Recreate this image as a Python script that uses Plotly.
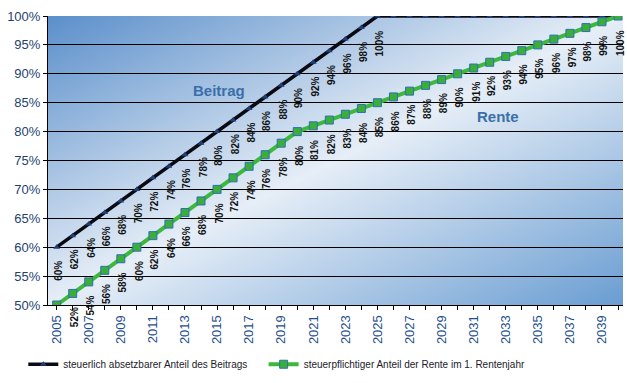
import base64
import plotly.graph_objects as go

years = list(range(2005, 2041))
beitrag = [60, 62, 64, 66, 68, 70, 72, 74, 76, 78, 80, 82, 84, 86, 88, 90, 92, 94, 96, 98,
           100, 100, 100, 100, 100, 100, 100, 100, 100, 100, 100, 100, 100, 100, 100, 100]
rente = [50, 52, 54, 56, 58, 60, 62, 64, 66, 68, 70, 72, 74, 76, 78, 80, 81, 82, 83, 84,
         85, 86, 87, 88, 89, 90, 91, 92, 93, 94, 95, 96, 97, 98, 99, 100]
beitrag_label_count = 21   # labels shown 2005..2025
rente_label_start = 1      # labels shown 2006..2040
x_tick_labels = [2005, 2007, 2009, 2011, 2013, 2015, 2017, 2019, 2021, 2023,
                 2025, 2027, 2029, 2031, 2033, 2035, 2037, 2039]
y_ticks = [50, 55, 60, 65, 70, 75, 80, 85, 90, 95, 100]
name_beitrag = "steuerlich absetzbarer Anteil des Beitrags"
name_rente = "steuerpflichtiger Anteil der Rente im 1. Rentenjahr"

FONT = "Arial, 'Liberation Sans', sans-serif"

svg = ('<svg xmlns="http://www.w3.org/2000/svg" width="100" height="100" preserveAspectRatio="none">'
       '<defs><linearGradient id="g" x1="0" y1="0" x2="1" y2="1">'
       '<stop offset="0" stop-color="#5b8fca"/>'
       '<stop offset="0.5" stop-color="#e6eef7"/>'
       '<stop offset="1" stop-color="#6a9dd2"/>'
       '</linearGradient></defs><rect width="100" height="100" fill="url(#g)"/></svg>')
src = "data:image/svg+xml;base64," + base64.b64encode(svg.encode()).decode()

fig = go.Figure()
fig.add_trace(go.Scatter(
    x=years, y=beitrag, name=name_beitrag, mode="lines+markers", legend="legend",
    line=dict(color="#0a0a14", width=3.5),
    marker=dict(symbol="triangle-up", size=6, color="#1f3f7a"),
))
fig.add_trace(go.Scatter(
    x=years, y=rente, name=name_rente, mode="lines+markers", legend="legend2",
    line=dict(color="#3cb83a", width=4),
    marker=dict(symbol="square", size=8, color="#3aae38",
                line=dict(color="#2f6fb8", width=1)),
))

lab_font = dict(family=FONT, size=10, color="#111")
annotations = []
for yr, v in list(zip(years, beitrag))[:beitrag_label_count]:
    annotations.append(dict(x=yr, y=v, xref="x", yref="y", text=f"<b>{v}%</b>",
                            textangle=-90, showarrow=False, yanchor="top", xanchor="center",
                            yshift=-12, xshift=2, font=lab_font))
for yr, v in list(zip(years, rente))[rente_label_start:]:
    annotations.append(dict(x=yr, y=v, xref="x", yref="y", text=f"<b>{v}%</b>",
                            textangle=-90, showarrow=False, yanchor="top", xanchor="center",
                            yshift=-12, xshift=2, font=lab_font))
annotations.append(dict(x=2015.1, y=87.1, xref="x", yref="y", text="<b>Beitrag</b>",
                        showarrow=False, font=dict(family=FONT, size=15, color="#3a6fa8")))
annotations.append(dict(x=2032.5, y=82.6, xref="x", yref="y", text="<b>Rente</b>",
                        showarrow=False, font=dict(family=FONT, size=15, color="#3a6fa8")))

legend_common = dict(orientation="h", y=-0.205, xanchor="left", yanchor="middle",
                     font=dict(family=FONT, size=10, color="#1a1a2a"), itemwidth=30,
                     bgcolor="rgba(0,0,0,0)")

fig.update_layout(
    width=627, height=383,
    margin=dict(l=48, r=4, t=16, b=68),
    paper_bgcolor="white",
    plot_bgcolor="rgba(0,0,0,0)",
    font=dict(family=FONT, size=12, color="#1f3f6f"),
    images=[dict(source=src, xref="paper", yref="paper", x=0, y=1, sizex=1, sizey=1,
                 sizing="stretch", layer="below", xanchor="left", yanchor="top")],
    annotations=annotations,
    showlegend=True,
    legend=dict(x=-0.043, **legend_common),
    legend2=dict(x=0.375, **legend_common),
    xaxis=dict(
        range=[2004.46, 2040.31],
        tickmode="array", tickvals=years,
        ticktext=[str(y) if y in x_tick_labels else "" for y in years],
        tickangle=-90, ticks="outside", ticklen=4, tickcolor="black",
        showline=True, linecolor="black", linewidth=1,
        showgrid=False, zeroline=False, automargin=False,
        tickfont=dict(family=FONT, size=13, color="#1f4f8f"),
    ),
    yaxis=dict(
        range=[50, 100],
        tickmode="array", tickvals=y_ticks, ticktext=[f"{t}%" for t in y_ticks],
        ticks="outside", ticklen=4, tickcolor="black",
        showline=True, linecolor="black", linewidth=1,
        showgrid=True, gridcolor="black", gridwidth=1, zeroline=False, automargin=False,
        tickfont=dict(family=FONT, size=13, color="#1f3f6f"),
    ),
)

fig.write_html("out.html")
